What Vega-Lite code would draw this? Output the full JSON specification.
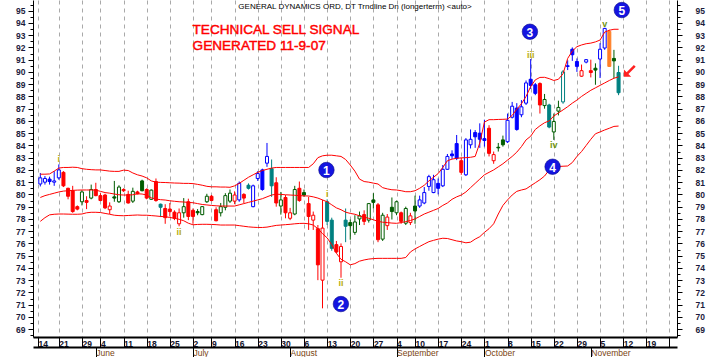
{
  "$schema": "https://vega.github.io/schema/vega-lite/v6.json",
  "width": 644,
  "height": 337,
  "autosize": {"type": "none"},
  "padding": {"left": 33, "top": 0, "right": 31, "bottom": 20},
  "background": "white",
  "config": {"view": {"stroke": null}, "font": "Liberation Sans"},
  "datasets": {
    "px": [
      {"t":-33,"o":80.85,"h":81.75,"l":80.65,"c":81.35,"s":"B","up":81.65,"mid":79.75,"lo":77.8},
      {"t":-32,"o":81.0,"h":81.5,"l":80.8,"c":81.3,"s":"B","up":81.65,"mid":79.9,"lo":78.1},
      {"t":-31,"o":81.25,"h":81.45,"l":80.8,"c":81.05,"s":"B","up":81.67,"mid":80.0,"lo":78.33},
      {"t":-30,"o":81.0,"h":81.9,"l":80.7,"c":81.1,"s":"B","up":81.9,"mid":80.1,"lo":78.38},
      {"t":-29,"o":81.35,"h":82.45,"l":81.2,"c":82.0,"s":"B","up":82.15,"mid":80.2,"lo":78.4},
      {"t":-28,"o":81.8,"h":81.9,"l":80.6,"c":80.7,"s":"R","up":82.2,"mid":80.27,"lo":78.4},
      {"t":-27,"o":80.5,"h":80.55,"l":79.6,"c":79.85,"s":"R","up":82.2,"mid":80.3,"lo":78.39},
      {"t":-26,"o":80.3,"h":80.7,"l":78.5,"c":78.6,"s":"R","up":82.22,"mid":80.33,"lo":78.38},
      {"t":-25,"o":79.0,"h":79.1,"l":78.7,"c":78.8,"s":"R","up":82.2,"mid":80.35,"lo":78.38},
      {"t":-24,"o":79.4,"h":80.35,"l":79.1,"c":80.2,"s":"G","up":82.1,"mid":80.36,"lo":78.4},
      {"t":-23,"o":79.5,"h":79.85,"l":78.8,"c":79.35,"s":"R","up":82.05,"mid":80.36,"lo":78.5},
      {"t":-22,"o":79.7,"h":80.8,"l":79.6,"c":80.4,"s":"G","up":82.02,"mid":80.36,"lo":78.54},
      {"t":-21,"o":80.4,"h":80.95,"l":79.85,"c":79.9,"s":"R","up":82.0,"mid":80.35,"lo":78.54},
      {"t":-20,"o":79.9,"h":80.1,"l":79.45,"c":79.5,"s":"R","up":82.0,"mid":80.25,"lo":78.52},
      {"t":-19,"o":79.95,"h":80.05,"l":78.8,"c":78.9,"s":"R","up":81.95,"mid":80.15,"lo":78.45},
      {"t":-18,"o":78.75,"h":79.35,"l":78.4,"c":79.05,"s":"R","up":81.9,"mid":80.1,"lo":78.38},
      {"t":-17,"o":79.8,"h":81.1,"l":79.4,"c":79.7,"s":"G","up":81.88,"mid":80.03,"lo":78.3},
      {"t":-16,"o":79.4,"h":80.75,"l":79.3,"c":80.6,"s":"G","up":81.88,"mid":79.97,"lo":78.27},
      {"t":-15,"o":80.4,"h":80.5,"l":80.2,"c":80.3,"s":"R","up":81.98,"mid":79.95,"lo":78.26},
      {"t":-14,"o":80.0,"h":80.3,"l":79.25,"c":79.3,"s":"R","up":81.95,"mid":79.95,"lo":78.28},
      {"t":-13,"o":79.45,"h":80.55,"l":79.3,"c":80.25,"s":"G","up":81.75,"mid":79.97,"lo":78.3},
      {"t":-12,"o":80.2,"h":80.3,"l":80.0,"c":80.05,"s":"R","up":81.6,"mid":80.05,"lo":78.32},
      {"t":-11,"o":81.1,"h":81.2,"l":80.25,"c":80.3,"s":"G","up":81.5,"mid":80.03,"lo":78.3},
      {"t":-10,"o":80.4,"h":80.5,"l":79.6,"c":79.7,"s":"R","up":81.35,"mid":79.95,"lo":78.3},
      {"t":-9,"o":79.6,"h":80.4,"l":79.55,"c":80.35,"s":"G","up":81.1,"mid":79.72,"lo":78.27},
      {"t":-8,"o":81.05,"h":81.3,"l":79.4,"c":79.5,"s":"R","up":81.0,"mid":79.62,"lo":78.24},
      {"t":-7,"o":79.2,"h":79.25,"l":78.15,"c":78.95,"s":"T","up":80.98,"mid":79.57,"lo":78.2},
      {"t":-6,"o":78.85,"h":79.2,"l":77.6,"c":78.1,"s":"R","up":80.97,"mid":79.54,"lo":78.18},
      {"t":-5,"o":78.8,"h":79.3,"l":78.2,"c":78.6,"s":"R","up":80.95,"mid":79.48,"lo":78.12},
      {"t":-4,"o":78.55,"h":78.7,"l":77.9,"c":78.05,"s":"R","up":80.93,"mid":79.44,"lo":78.05},
      {"t":-3,"o":77.6,"h":78.85,"l":77.4,"c":78.5,"s":"R","up":80.92,"mid":79.4,"lo":77.97},
      {"t":-2,"o":78.5,"h":79.7,"l":78.1,"c":79.0,"s":"G","up":80.9,"mid":79.38,"lo":77.85},
      {"t":-1,"o":79.4,"h":79.65,"l":77.9,"c":78.2,"s":"R","up":80.9,"mid":79.35,"lo":77.65},
      {"t":0,"o":78.7,"h":78.85,"l":77.6,"c":78.2,"s":"R","up":80.88,"mid":79.32,"lo":77.52},
      {"t":1,"o":78.6,"h":78.8,"l":78.3,"c":78.5,"s":"G","up":80.82,"mid":79.25,"lo":77.55},
      {"t":2,"o":78.35,"h":79.05,"l":78.3,"c":79.0,"s":"G","up":80.75,"mid":79.18,"lo":77.56},
      {"t":3,"o":79.4,"h":80.05,"l":79.3,"c":79.85,"s":"G","up":80.66,"mid":79.14,"lo":77.56},
      {"t":4,"o":79.85,"h":79.95,"l":79.45,"c":79.5,"s":"R","up":80.62,"mid":79.1,"lo":77.55},
      {"t":5,"o":78.75,"h":78.95,"l":77.8,"c":77.85,"s":"R","up":80.62,"mid":79.07,"lo":77.53},
      {"t":6,"o":78.5,"h":79.3,"l":78.2,"c":79.0,"s":"G","up":80.6,"mid":79.05,"lo":77.5},
      {"t":7,"o":78.95,"h":80.1,"l":78.7,"c":79.9,"s":"G","up":80.6,"mid":79.05,"lo":77.5},
      {"t":8,"o":79.45,"h":80.4,"l":79.3,"c":80.1,"s":"G","up":80.58,"mid":79.05,"lo":77.5},
      {"t":9,"o":79.45,"h":80.25,"l":79.2,"c":79.95,"s":"R","up":80.7,"mid":79.05,"lo":77.5},
      {"t":10,"o":79.55,"h":81.05,"l":79.4,"c":80.9,"s":"B","up":80.9,"mid":79.15,"lo":77.45},
      {"t":11,"o":80.0,"h":80.1,"l":79.3,"c":79.7,"s":"R","up":81.15,"mid":79.25,"lo":77.4},
      {"t":12,"o":80.75,"h":80.9,"l":80.4,"c":80.5,"s":"T","up":81.4,"mid":79.35,"lo":77.35},
      {"t":13,"o":79.0,"h":80.8,"l":78.95,"c":80.7,"s":"B","up":81.6,"mid":79.45,"lo":77.32},
      {"t":14,"o":81.3,"h":81.9,"l":81.1,"c":81.7,"s":"B","up":81.8,"mid":79.55,"lo":77.3},
      {"t":15,"o":82.0,"h":82.1,"l":80.3,"c":80.4,"s":"B","up":81.95,"mid":79.65,"lo":77.3},
      {"t":16,"o":82.55,"h":84.2,"l":82.25,"c":83.1,"s":"B","up":82.05,"mid":79.8,"lo":77.33},
      {"t":17,"o":82.1,"h":82.85,"l":79.8,"c":80.7,"s":"T","up":82.15,"mid":79.95,"lo":77.4},
      {"t":18,"o":80.95,"h":81.4,"l":79.0,"c":79.3,"s":"R","up":82.2,"mid":80.02,"lo":77.47},
      {"t":19,"o":79.05,"h":80.2,"l":78.35,"c":79.55,"s":"G","up":82.2,"mid":80.0,"lo":77.5},
      {"t":20,"o":79.75,"h":79.95,"l":78.05,"c":78.5,"s":"R","up":82.2,"mid":79.97,"lo":77.53},
      {"t":21,"o":78.05,"h":78.9,"l":77.9,"c":78.5,"s":"R","up":82.2,"mid":79.95,"lo":77.56},
      {"t":22,"o":78.4,"h":80.7,"l":78.3,"c":80.4,"s":"G","up":82.2,"mid":79.93,"lo":77.6},
      {"t":23,"o":80.5,"h":81.05,"l":79.4,"c":79.5,"s":"R","up":82.2,"mid":79.9,"lo":77.63},
      {"t":24,"o":80.15,"h":80.4,"l":79.8,"c":79.95,"s":"G","up":82.2,"mid":79.88,"lo":77.64},
      {"t":25,"o":79.25,"h":79.8,"l":77.1,"c":78.2,"s":"R","up":82.2,"mid":79.87,"lo":77.6},
      {"t":26,"o":77.9,"h":78.6,"l":77.1,"c":78.3,"s":"R","up":82.5,"mid":79.8,"lo":77.5},
      {"t":27,"o":77.2,"h":77.5,"l":73.0,"c":74.25,"s":"R","up":83.0,"mid":79.7,"lo":77.2},
      {"t":28,"o":73.0,"h":79.55,"l":70.7,"c":77.25,"s":"R","up":83.15,"mid":79.55,"lo":76.8},
      {"t":29,"o":79.4,"h":79.6,"l":77.5,"c":77.8,"s":"T","up":83.2,"mid":79.4,"lo":76.45},
      {"t":30,"o":77.9,"h":78.1,"l":75.4,"c":75.6,"s":"T","up":83.2,"mid":79.15,"lo":75.9},
      {"t":31,"o":75.9,"h":76.2,"l":75.2,"c":75.3,"s":"R","up":83.15,"mid":78.9,"lo":75.2},
      {"t":32,"o":74.5,"h":76.0,"l":73.2,"c":75.75,"s":"R","up":83.1,"mid":78.75,"lo":74.7},
      {"t":33,"o":77.9,"h":78.85,"l":76.1,"c":77.4,"s":"T","up":82.85,"mid":78.55,"lo":74.5},
      {"t":34,"o":77.7,"h":77.95,"l":76.3,"c":77.45,"s":"G","up":82.4,"mid":78.45,"lo":74.25},
      {"t":35,"o":76.9,"h":78.3,"l":76.7,"c":77.75,"s":"G","up":81.9,"mid":78.38,"lo":74.35},
      {"t":36,"o":78.0,"h":78.6,"l":77.5,"c":78.25,"s":"G","up":81.25,"mid":78.25,"lo":74.55},
      {"t":37,"o":78.35,"h":78.7,"l":77.5,"c":77.8,"s":"R","up":81.05,"mid":78.15,"lo":74.65},
      {"t":38,"o":77.9,"h":79.3,"l":77.7,"c":79.25,"s":"G","up":81.0,"mid":78.05,"lo":74.72},
      {"t":39,"o":79.55,"h":80.1,"l":78.85,"c":79.35,"s":"G","up":80.92,"mid":77.93,"lo":74.76},
      {"t":40,"o":79.15,"h":79.3,"l":76.1,"c":76.3,"s":"R","up":80.85,"mid":77.8,"lo":74.78},
      {"t":41,"o":76.35,"h":78.5,"l":76.2,"c":78.3,"s":"G","up":80.55,"mid":77.73,"lo":74.78},
      {"t":42,"o":77.45,"h":78.4,"l":77.1,"c":78.15,"s":"R","up":80.45,"mid":77.7,"lo":74.78},
      {"t":43,"o":78.95,"h":79.75,"l":77.95,"c":78.6,"s":"G","up":80.38,"mid":77.66,"lo":74.78},
      {"t":44,"o":78.5,"h":79.5,"l":78.3,"c":79.4,"s":"G","up":80.36,"mid":77.64,"lo":74.78},
      {"t":45,"o":78.5,"h":78.6,"l":77.6,"c":77.8,"s":"R","up":80.3,"mid":77.7,"lo":74.78},
      {"t":46,"o":77.65,"h":79.0,"l":77.5,"c":78.85,"s":"G","up":80.22,"mid":77.78,"lo":74.85},
      {"t":47,"o":77.7,"h":78.5,"l":77.5,"c":78.25,"s":"R","up":80.22,"mid":77.87,"lo":75.3},
      {"t":48,"o":79.05,"h":79.9,"l":77.6,"c":78.65,"s":"G","up":80.3,"mid":78.0,"lo":75.55},
      {"t":49,"o":79.05,"h":79.9,"l":78.9,"c":79.55,"s":"B","up":80.5,"mid":78.2,"lo":75.75},
      {"t":50,"o":79.3,"h":80.6,"l":79.2,"c":80.15,"s":"B","up":80.75,"mid":78.4,"lo":75.95},
      {"t":51,"o":80.65,"h":81.6,"l":80.3,"c":81.45,"s":"B","up":81.1,"mid":78.55,"lo":76.14},
      {"t":52,"o":80.15,"h":81.6,"l":80.1,"c":81.2,"s":"B","up":81.4,"mid":78.7,"lo":76.25},
      {"t":53,"o":80.9,"h":81.3,"l":80.0,"c":80.5,"s":"B","up":81.7,"mid":78.85,"lo":76.35},
      {"t":54,"o":80.7,"h":82.4,"l":80.6,"c":82.05,"s":"B","up":82.2,"mid":79.1,"lo":76.42},
      {"t":55,"o":82.05,"h":83.3,"l":82.0,"c":83.1,"s":"B","up":82.75,"mid":79.3,"lo":76.4},
      {"t":56,"o":83.3,"h":83.6,"l":82.9,"c":83.15,"s":"B","up":82.88,"mid":79.6,"lo":76.3},
      {"t":57,"o":84.15,"h":84.85,"l":82.8,"c":82.95,"s":"B","up":82.95,"mid":79.8,"lo":76.2},
      {"t":58,"o":82.75,"h":83.0,"l":81.6,"c":81.8,"s":"R","up":82.98,"mid":79.95,"lo":76.14},
      {"t":59,"o":81.6,"h":84.6,"l":81.5,"c":84.45,"s":"B","up":83.0,"mid":80.2,"lo":76.05},
      {"t":60,"o":84.05,"h":85.3,"l":83.75,"c":84.5,"s":"B","up":83.03,"mid":80.55,"lo":76.1},
      {"t":61,"o":85.05,"h":85.25,"l":83.8,"c":84.7,"s":"B","up":83.1,"mid":80.9,"lo":76.35},
      {"t":62,"o":85.0,"h":85.8,"l":83.8,"c":84.5,"s":"B","up":84.2,"mid":81.25,"lo":76.55},
      {"t":63,"o":84.55,"h":86.1,"l":83.9,"c":84.4,"s":"B","up":85.9,"mid":81.6,"lo":76.9},
      {"t":64,"o":85.4,"h":85.65,"l":83.1,"c":83.35,"s":"R","up":86.1,"mid":81.8,"lo":77.2},
      {"t":65,"o":82.75,"h":83.5,"l":82.5,"c":83.25,"s":"R","up":86.1,"mid":82.0,"lo":77.6},
      {"t":66,"o":83.85,"h":84.2,"l":83.5,"c":83.8,"s":"G","up":86.12,"mid":82.25,"lo":78.4},
      {"t":67,"o":84.45,"h":84.8,"l":83.9,"c":84.05,"s":"G","up":86.13,"mid":82.5,"lo":79.1},
      {"t":68,"o":84.3,"h":86.6,"l":84.2,"c":86.05,"s":"B","up":86.15,"mid":82.8,"lo":79.55},
      {"t":69,"o":86.3,"h":87.55,"l":86.2,"c":87.2,"s":"B","up":86.45,"mid":83.1,"lo":79.95},
      {"t":70,"o":87.05,"h":87.45,"l":85.2,"c":85.3,"s":"B","up":86.95,"mid":83.45,"lo":80.25},
      {"t":71,"o":86.5,"h":87.7,"l":86.3,"c":87.15,"s":"B","up":87.4,"mid":83.9,"lo":80.36},
      {"t":72,"o":87.45,"h":89.3,"l":87.3,"c":89.1,"s":"B","up":88.0,"mid":84.45,"lo":80.45},
      {"t":73,"o":89.4,"h":91.05,"l":88.6,"c":88.9,"s":"B","up":88.8,"mid":84.75,"lo":80.7},
      {"t":74,"o":88.95,"h":89.1,"l":88.1,"c":88.25,"s":"B","up":89.35,"mid":85.3,"lo":80.95},
      {"t":75,"o":89.05,"h":89.15,"l":86.6,"c":87.3,"s":"R","up":89.55,"mid":85.6,"lo":81.2},
      {"t":76,"o":87.25,"h":88.2,"l":87.0,"c":87.75,"s":"G","up":89.56,"mid":85.85,"lo":81.5},
      {"t":77,"o":87.3,"h":87.4,"l":85.4,"c":85.5,"s":"T","up":89.45,"mid":86.0,"lo":82.0},
      {"t":78,"o":85.1,"h":86.6,"l":84.45,"c":85.95,"s":"G","up":89.3,"mid":86.4,"lo":82.25},
      {"t":79,"o":86.8,"h":87.65,"l":86.45,"c":87.1,"s":"G","up":89.4,"mid":86.65,"lo":82.28},
      {"t":80,"o":87.55,"h":90.15,"l":87.4,"c":90.0,"s":"T","up":89.85,"mid":86.9,"lo":82.3},
      {"t":81,"o":90.5,"h":90.95,"l":90.15,"c":90.45,"s":"B","up":91.1,"mid":87.16,"lo":82.32},
      {"t":82,"o":91.85,"h":92.0,"l":90.9,"c":91.4,"s":"B","up":91.7,"mid":87.45,"lo":82.6},
      {"t":83,"o":90.85,"h":91.1,"l":90.0,"c":90.45,"s":"B","up":92.06,"mid":87.7,"lo":83.1},
      {"t":84,"o":89.65,"h":90.6,"l":89.6,"c":90.1,"s":"R","up":92.2,"mid":88.0,"lo":83.5},
      {"t":85,"o":90.8,"h":91.05,"l":90.7,"c":91.0,"s":"B","up":92.3,"mid":88.25,"lo":84.0},
      {"t":86,"o":90.1,"h":91.0,"l":89.55,"c":89.95,"s":"R","up":92.35,"mid":88.5,"lo":84.5},
      {"t":87,"o":90.3,"h":90.7,"l":88.95,"c":90.15,"s":"G","up":92.45,"mid":88.7,"lo":84.95},
      {"t":88,"o":91.05,"h":92.35,"l":89.5,"c":91.85,"s":"B","up":92.6,"mid":88.9,"lo":85.1},
      {"t":89,"o":91.95,"h":93.6,"l":91.8,"c":93.55,"s":"B","up":93.25,"mid":89.1,"lo":85.26},
      {"t":90,"o":93.3,"h":93.45,"l":90.4,"c":90.45,"s":"O","up":93.4,"mid":89.3,"lo":85.4},
      {"t":91,"o":91.1,"h":91.8,"l":89.5,"c":90.9,"s":"G","up":93.48,"mid":89.48,"lo":85.55},
      {"t":92,"o":89.95,"h":90.5,"l":88.1,"c":88.3,"s":"T","up":93.48,"mid":89.6,"lo":85.58}
    ],
    "ann": [
      {"k":"hdr","t":35.03,"p":95.3,"txt":"GENERAL DYNAMICS ORD, DT Trndline Dn (longerterm) <auto>"},
      {"k":"ttl","t":-0.09,"p":93.09,"txt":"TECHNICAL SELL SIGNAL"},
      {"k":"ttl","t":-0.09,"p":91.79,"txt":"GENERATED 11-9-07"},
      {"k":"num","t":28.85,"p":81.99,"txt":"1"},
      {"k":"num","t":31.98,"p":71.05,"txt":"2"},
      {"k":"num","t":72.84,"p":93.28,"txt":"3"},
      {"k":"num","t":77.74,"p":82.26,"txt":"4"},
      {"k":"num","t":92.7,"p":95.05,"txt":"5"},
      {"k":"wy","t":-29,"p":82.85,"txt":"i"},
      {"k":"wy","t":-3,"p":76.93,"txt":"ii"},
      {"k":"wy","t":29,"p":80.03,"txt":"i"},
      {"k":"wy","t":32,"p":72.77,"txt":"ii"},
      {"k":"wy","t":73,"p":91.42,"txt":"iii"},
      {"k":"wg","t":78,"p":84.0,"txt":"iv"},
      {"k":"wg","t":89,"p":93.91,"txt":"v"},
      {"k":"arr","t":94.72,"p":90.2,"txt":""}
    ]
  },
  "layer": [
    {
      "data": {"name": "px"},
      "mark": {"type": "rule", "strokeWidth": 1},
      "encoding": {
        "x": {"field": "t", "type": "quantitative", "scale": {"domain": [-33.5, 103.55], "nice": false, "zero": false}, "axis": null},
        "y": {"field": "l", "type": "quantitative", "scale": {"domain": [68.36, 95.87], "nice": false, "zero": false},
              "axis": {"orient": "right", "values": [68.5,69.5,70.5,71.5,72.5,73.5,74.5,75.5,76.5,77.5,78.5,79.5,80.5,81.5,82.5,83.5,84.5,85.5,86.5,87.5,88.5,89.5,90.5,91.5,92.5,93.5,94.5,95.5], "labels": false, "domain": false, "grid": false, "tickSize": 3, "tickColor": "#000", "title": null}},
        "y2": {"field": "h"},
        "stroke": {"field": "s", "type": "nominal", "scale": {"domain": ["B","R","G","T","O"], "range": ["#0000ff","#ff0000","#005c00","#008080","#ff7f27"]}, "legend": null}
      }
    },
    {
      "data": {"name": "px"},
      "mark": {"type": "bar", "width": 3, "strokeWidth": 1, "fillOpacity": 1},
      "encoding": {
        "x": {"field": "t", "type": "quantitative", "scale": {"domain": [-33.5, 103.55], "nice": false, "zero": false}, "axis": null},
        "y": {"field": "o", "type": "quantitative", "scale": {"domain": [68.36, 95.87], "nice": false, "zero": false}, "axis": null},
        "y2": {"field": "c"},
        "stroke": {"field": "s", "type": "nominal", "scale": {"domain": ["B","R","G","T","O"], "range": ["#0000ff","#ff0000","#005c00","#008080","#ff7f27"]}, "legend": null},
        "fill": {"field": "s", "type": "nominal", "scale": {"domain": ["B","R","G","T","O"], "range": ["#0000ff","#ff0000","#005c00","#008080","#ff7f27"]}, "legend": null,
                 "condition": {"test": "datum.c > datum.o", "value": "#ffffff"}}
      }
    },
    {
      "data": {"name": "px"},
      "mark": {"type": "line", "color": "#ff0000", "strokeWidth": 1},
      "encoding": {
        "x": {"field": "t", "type": "quantitative", "scale": {"domain": [-33.5, 103.55], "nice": false, "zero": false},
              "axis": {"orient": "bottom", "values": [-33.5,-29,-24,-20,-15,-10,-5,0,4,9,14,19,24,29,34,39,44,48,53,58,63,68,73,78,83,88,93,98,103],
                       "labelExpr": "['14','21','29','4','11','18','25','2','9','16','23','30','6','13','20','27','4','10','17','24','1','8','15','22','29','5','12','19',''][indexof([-33.5,-29,-24,-20,-15,-10,-5,0,4,9,14,19,24,29,34,39,44,48,53,58,63,68,73,78,83,88,93,98,103], datum.value)]",
                       "tickSize": 10, "tickColor": "#000", "domainColor": "#000", "domainWidth": 2,
                       "labelAlign": "left", "labelDx": 2, "labelBaseline": "middle", "labelPadding": -4,
                       "labelFont": "Liberation Sans", "labelFontSize": 8.5, "labelFontWeight": "bold", "labelColor": "#10102a",
                       "grid": true, "gridColor": "#a9a9a9", "gridDash": [4, 4], "gridWidth": 1,
                       "labelOverlap": false, "labelFlush": false, "title": null}},
        "y": {"field": "up", "type": "quantitative", "scale": {"domain": [68.36, 95.87], "nice": false, "zero": false},
              "axis": {"orient": "left", "values": [69,70,71,72,73,74,75,76,77,78,79,80,81,82,83,84,85,86,87,88,89,90,91,92,93,94,95],
                       "tickSize": 5, "tickColor": "#000", "domainColor": "#000", "domainWidth": 1,
                       "labelFont": "Liberation Sans", "labelFontSize": 8.5, "labelFontWeight": "bold", "labelColor": "#1c1c3c",
                       "labelPadding": 3, "grid": false, "labelOverlap": false, "labelFlush": false, "title": null}}
      }
    },
    {
      "data": {"name": "px"},
      "mark": {"type": "line", "color": "#ff0000", "strokeWidth": 1},
      "encoding": {
        "x": {"field": "t", "type": "quantitative", "scale": {"domain": [-33.5, 103.55], "nice": false, "zero": false},
              "axis": {"orient": "bottom", "offset": 10, "values": [-21, 0, 21, 44, 63, 86],
                       "labelExpr": "['June','July','August','September','October','November'][indexof([-21,0,21,44,63,86], datum.value)]",
                       "tickSize": 10, "tickColor": "#000", "domainColor": "#000", "domainWidth": 2,
                       "labelAlign": "left", "labelDx": 2, "labelBaseline": "middle", "labelPadding": -5,
                       "labelFont": "Liberation Sans", "labelFontSize": 8.5, "labelColor": "#7a4410",
                       "grid": false, "labelOverlap": false, "labelFlush": false, "title": null}},
        "y": {"field": "mid", "type": "quantitative", "scale": {"domain": [68.36, 95.87], "nice": false, "zero": false},
              "axis": {"orient": "right", "values": [69,70,71,72,73,74,75,76,77,78,79,80,81,82,83,84,85,86,87,88,89,90,91,92,93,94,95],
                       "tickSize": 5, "tickColor": "#000", "domainColor": "#000", "domainWidth": 1,
                       "labelFont": "Liberation Sans", "labelFontSize": 8.5, "labelFontWeight": "bold", "labelColor": "#1c1c3c",
                       "labelPadding": 13, "grid": false, "labelOverlap": false, "labelFlush": false, "title": null}}
      }
    },
    {
      "data": {"name": "px"},
      "mark": {"type": "line", "color": "#ff0000", "strokeWidth": 1},
      "encoding": {
        "x": {"field": "t", "type": "quantitative", "scale": {"domain": [-33.5, 103.55], "nice": false, "zero": false}, "axis": null},
        "y": {"field": "lo", "type": "quantitative", "scale": {"domain": [68.36, 95.87], "nice": false, "zero": false},
              "axis": {"orient": "left", "values": [68.5,69.5,70.5,71.5,72.5,73.5,74.5,75.5,76.5,77.5,78.5,79.5,80.5,81.5,82.5,83.5,84.5,85.5,86.5,87.5,88.5,89.5,90.5,91.5,92.5,93.5,94.5,95.5], "labels": false, "domain": false, "grid": false, "tickSize": 3, "tickColor": "#000", "title": null}}
      }
    },
    {
      "data": {"name": "ann"},
      "transform": [{"filter": "datum.k === 'hdr'"}],
      "mark": {"type": "text", "fontSize": 8, "font": "Liberation Sans", "color": "#000000", "align": "center", "baseline": "middle"},
      "encoding": {
        "x": {"field": "t", "type": "quantitative", "scale": {"domain": [-33.5, 103.55], "nice": false, "zero": false}, "axis": null},
        "y": {"field": "p", "type": "quantitative", "scale": {"domain": [68.36, 95.87], "nice": false, "zero": false}, "axis": null},
        "text": {"field": "txt"}
      }
    },
    {
      "data": {"name": "ann"},
      "transform": [{"filter": "datum.k === 'ttl'"}],
      "mark": {"type": "text", "fontSize": 13.6, "font": "Liberation Sans", "color": "#ff0000", "stroke": "#ff0000", "strokeWidth": 0.45, "align": "left", "baseline": "alphabetic"},
      "encoding": {
        "x": {"field": "t", "type": "quantitative", "scale": {"domain": [-33.5, 103.55], "nice": false, "zero": false}, "axis": null},
        "y": {"field": "p", "type": "quantitative", "scale": {"domain": [68.36, 95.87], "nice": false, "zero": false}, "axis": null},
        "text": {"field": "txt"}
      }
    },
    {
      "data": {"name": "ann"},
      "transform": [{"filter": "datum.k === 'num'"}],
      "mark": {"type": "point", "shape": "circle", "filled": true, "size": 240, "color": "#1414e0", "opacity": 1, "stroke": "#0a0a8a", "strokeWidth": 0.6},
      "encoding": {
        "x": {"field": "t", "type": "quantitative", "scale": {"domain": [-33.5, 103.55], "nice": false, "zero": false}, "axis": null},
        "y": {"field": "p", "type": "quantitative", "scale": {"domain": [68.36, 95.87], "nice": false, "zero": false}, "axis": null}
      }
    },
    {
      "data": {"name": "ann"},
      "transform": [{"filter": "datum.k === 'num'"}],
      "mark": {"type": "text", "fontSize": 12, "fontWeight": "bold", "font": "Liberation Sans", "color": "#ffffff", "align": "center", "baseline": "middle", "dy": 1},
      "encoding": {
        "x": {"field": "t", "type": "quantitative", "scale": {"domain": [-33.5, 103.55], "nice": false, "zero": false}, "axis": null},
        "y": {"field": "p", "type": "quantitative", "scale": {"domain": [68.36, 95.87], "nice": false, "zero": false}, "axis": null},
        "text": {"field": "txt"}
      }
    },
    {
      "data": {"name": "ann"},
      "transform": [{"filter": "datum.k === 'wy'"}],
      "mark": {"type": "text", "fontSize": 9, "fontWeight": "bold", "font": "Liberation Sans", "color": "#b8ac10", "align": "center", "baseline": "middle"},
      "encoding": {
        "x": {"field": "t", "type": "quantitative", "scale": {"domain": [-33.5, 103.55], "nice": false, "zero": false}, "axis": null},
        "y": {"field": "p", "type": "quantitative", "scale": {"domain": [68.36, 95.87], "nice": false, "zero": false}, "axis": null},
        "text": {"field": "txt"}
      }
    },
    {
      "data": {"name": "ann"},
      "transform": [{"filter": "datum.k === 'wg'"}],
      "mark": {"type": "text", "fontSize": 9, "fontWeight": "bold", "font": "Liberation Sans", "color": "#6e9410", "align": "center", "baseline": "middle"},
      "encoding": {
        "x": {"field": "t", "type": "quantitative", "scale": {"domain": [-33.5, 103.55], "nice": false, "zero": false}, "axis": null},
        "y": {"field": "p", "type": "quantitative", "scale": {"domain": [68.36, 95.87], "nice": false, "zero": false}, "axis": null},
        "text": {"field": "txt"}
      }
    },
    {
      "data": {"name": "ann"},
      "transform": [{"filter": "datum.k === 'arr'"}],
      "mark": {"type": "point", "filled": true, "size": 210, "color": "#ff2020", "opacity": 1,
               "shape": "M -1 1 L -1 0 L -0.624 0.376 L 0.376 -0.624 L 0.624 -0.376 L -0.376 0.624 L 0 1 Z"},
      "encoding": {
        "x": {"field": "t", "type": "quantitative", "scale": {"domain": [-33.5, 103.55], "nice": false, "zero": false}, "axis": null},
        "y": {"field": "p", "type": "quantitative", "scale": {"domain": [68.36, 95.87], "nice": false, "zero": false}, "axis": null}
      }
    }
  ],
  "resolve": {"axis": {"x": "independent", "y": "independent"}}
}
